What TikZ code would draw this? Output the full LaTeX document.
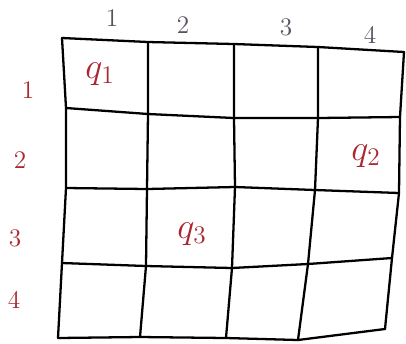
\documentclass[tikz,border=0pt]{standalone}
\usepackage{amsmath,amssymb}
\usetikzlibrary{calc}

\definecolor{penred}{RGB}{170,40,50}
\definecolor{pengray}{RGB}{90,80,95}

\begin{document}
\begin{tikzpicture}[x=0.02cm, y=-0.02cm, line width=1.3pt, line join=round, line cap=round]
    \useasboundingbox (0,0) rectangle (406,343);
    \tikzset{
        rowlab/.style={text=penred, font=\Large},
        collab/.style={text=pengray, font=\Large},
        queen/.style={text=penred, font=\huge}
    }

    % 定义网格交点
    \coordinate (p00) at (62, 38);
    \coordinate (p01) at (148, 42);
    \coordinate (p02) at (234, 44);
    \coordinate (p03) at (318, 47);
    \coordinate (p04) at (404, 52);

    \coordinate (p10) at (66, 108);
    \coordinate (p11) at (148, 114);
    \coordinate (p12) at (234, 118);
    \coordinate (p13) at (318, 118);
    \coordinate (p14) at (400, 117);

    \coordinate (p20) at (66, 188);
    \coordinate (p21) at (147, 189);
    \coordinate (p22) at (235, 187);
    \coordinate (p23) at (315, 190);
    \coordinate (p24) at (399, 193);

    \coordinate (p30) at (62, 263);
    \coordinate (p31) at (146, 266);
    \coordinate (p32) at (232, 268);
    \coordinate (p33) at (308, 264);
    \coordinate (p34) at (392, 258);

    \coordinate (p40) at (58, 338);
    \coordinate (p41) at (140, 337);
    \coordinate (p42) at (226, 338);
    \coordinate (p43) at (298, 340);
    \coordinate (p44) at (385, 329);

    % 绘制横线
    \draw (p00) -- (p01) -- (p02) -- (p03) -- (p04);
    \draw (p10) -- (p11) -- (p12) -- (p13) -- (p14);
    \draw (p20) -- (p21) -- (p22) -- (p23) -- (p24);
    \draw (p30) -- (p31) -- (p32) -- (p33) -- (p34);
    \draw (p40) -- (p41) -- (p42) -- (p43) -- (p44);

    % 绘制竖线
    \draw (p00) -- (p10) -- (p20) -- (p30) -- (p40);
    \draw (p01) -- (p11) -- (p21) -- (p31) -- (p41);
    \draw (p02) -- (p12) -- (p22) -- (p32) -- (p42);
    \draw (p03) -- (p13) -- (p23) -- (p33) -- (p43);
    \draw (p04) -- (p14) -- (p24) -- (p34) -- (p44);

    % 列编号
    \node[collab] (c1) at (112, 18) {1};
    \node[collab] (c2) at (183, 25) {2};
    \node[collab] (c3) at (286, 27) {3};
    \node[collab] (c4) at (370, 35) {4};

    % 行编号
    \node[rowlab] (r1) at (28, 90) {1};
    \node[rowlab] (r2) at (20, 160) {2};
    \node[rowlab] (r3) at (15, 238) {3};
    \node[rowlab] (r4) at (14, 300) {4};

    % 皇后
    \node[queen] (q1) at (100, 74) {$q_1$};
    \node[queen] (q2) at (366, 156) {$q_2$};
    \node[queen] (q3) at (192, 234) {$q_3$};
\end{tikzpicture}
\end{document}
